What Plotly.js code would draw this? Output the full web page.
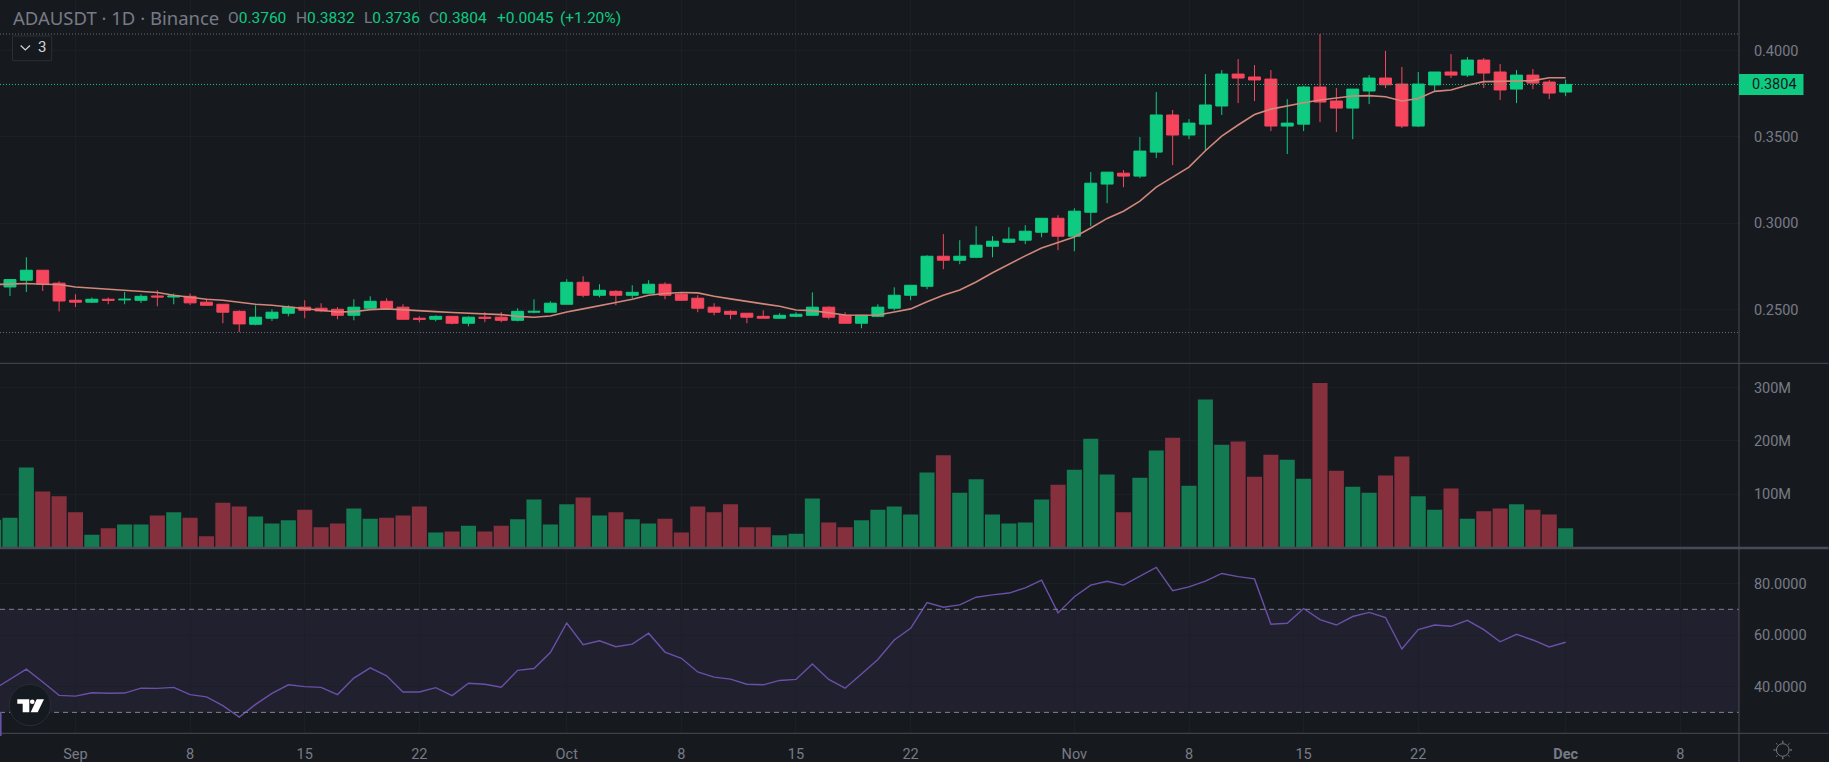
<!DOCTYPE html>
<html><head><meta charset="utf-8">
<script src="https://cdn.plot.ly/plotly-3.0.1.min.js"></script>
<style>html,body{margin:0;padding:0;background:#161a1f;overflow:hidden}</style>
</head><body><div id="chart" style="width:1829px;height:762px"></div>
<script>
const days = ['08-27','08-28','08-29','08-30','08-31',
'09-01','09-02','09-03','09-04','09-05','09-06','09-07','09-08','09-09','09-10','09-11','09-12','09-13','09-14','09-15','09-16','09-17','09-18','09-19','09-20','09-21','09-22','09-23','09-24','09-25','09-26','09-27','09-28','09-29','09-30',
'10-01','10-02','10-03','10-04','10-05','10-06','10-07','10-08','10-09','10-10','10-11','10-12','10-13','10-14','10-15','10-16','10-17','10-18','10-19','10-20','10-21','10-22','10-23','10-24','10-25','10-26','10-27','10-28','10-29','10-30','10-31',
'11-01','11-02','11-03','11-04','11-05','11-06','11-07','11-08','11-09','11-10','11-11','11-12','11-13','11-14','11-15','11-16','11-17','11-18','11-19','11-20','11-21','11-22','11-23','11-24','11-25','11-26','11-27','11-28','11-29','11-30','12-01'];
const opens = [.2640,.2631,.2670,.2728,.2653,.2554,.2543,.2560,.2556,.2554,.2579,.2573,.2577,.2543,.2531,.2490,.2415,.2450,.2479,.2514,.2508,.2502,.2467,.2508,.2548,.2514,.2450,.2444,.2461,.2421,.2456,.2456,.2438,.2485,.2485,.2531,.2658,.2583,.2606,.2583,.2595,.2647,.2589,.2566,.2514,.2490,.2479,.2461,.2450,.2461,.2467,.2514,.2467,.2421,.2461,.2508,.2583,.2635,.2809,.2786,.2803,.2867,.2890,.2902,.2948,.3029,.2925,.3064,.3227,.3290,.3273,.3412,.3627,.3511,.3574,.3679,.3864,.3847,.3835,.3563,.3574,.3789,.3708,.3667,.3766,.3841,.3806,.3563,.3801,.3876,.3858,.3945,.3876,.3777,.3858,.3818,.3760];
const closes = [.2660,.2674,.2728,.2647,.2550,.2543,.2560,.2554,.2560,.2577,.2573,.2579,.2539,.2525,.2485,.2417,.2456,.2485,.2514,.2496,.2492,.2467,.2514,.2548,.2508,.2444,.2444,.2461,.2421,.2456,.2450,.2438,.2490,.2490,.2537,.2658,.2583,.2612,.2583,.2600,.2647,.2583,.2554,.2508,.2485,.2473,.2456,.2450,.2467,.2473,.2514,.2456,.2421,.2467,.2514,.2583,.2641,.2809,.2786,.2809,.2873,.2896,.2908,.2954,.3029,.2925,.3070,.3232,.3296,.3273,.3418,.3627,.3511,.3580,.3685,.3864,.3841,.3830,.3563,.3580,.3789,.3702,.3667,.3777,.3841,.3802,.3563,.3806,.3876,.3858,.3945,.3870,.3772,.3858,.3812,.3754,.3804];
const highs = [.2670,.2674,.2803,.2728,.2664,.2589,.2570,.2570,.2602,.2589,.2612,.2593,.2593,.2564,.2531,.2496,.2525,.2502,.2525,.2554,.2537,.2514,.2560,.2577,.2566,.2531,.2461,.2467,.2461,.2461,.2485,.2485,.2508,.2560,.2548,.2676,.2693,.2647,.2612,.2641,.2670,.2658,.2600,.2583,.2537,.2496,.2479,.2496,.2479,.2485,.2600,.2519,.2485,.2467,.2531,.2629,.2641,.2815,.2937,.2902,.2983,.2925,.2977,.2989,.3029,.3047,.3087,.3296,.3296,.3308,.3499,.3760,.3656,.3603,.3864,.3887,.3951,.3916,.3887,.3719,.3795,.4096,.3783,.3777,.3858,.3998,.3905,.3876,.3876,.3980,.3963,.3957,.3922,.3887,.3893,.3830,.3832];
const lows = [.2600,.2579,.2602,.2608,.2490,.2515,.2539,.2531,.2531,.2539,.2519,.2531,.2527,.2525,.2421,.2369,.2409,.2434,.2461,.2450,.2485,.2444,.2438,.2508,.2508,.2444,.2427,.2432,.2415,.2403,.2427,.2427,.2432,.2479,.2485,.2531,.2571,.2571,.2525,.2566,.2595,.2560,.2554,.2485,.2467,.2444,.2421,.2450,.2450,.2456,.2467,.2444,.2421,.2392,.2456,.2496,.2554,.2618,.2734,.2763,.2798,.2803,.2885,.2879,.2919,.2844,.2838,.2983,.3116,.3209,.3261,.3377,.3337,.3487,.3418,.3627,.3696,.3708,.3534,.3401,.3534,.3586,.3528,.3487,.3690,.3783,.3551,.3557,.3766,.3841,.3847,.3783,.3714,.3696,.3777,.3719,.3736];
const volumeM = [52,56,150,105,96,66,24,36,43,43,60,66,56,21,84,77,58,45,51,71,38,45,73,54,56,60,77,28,30,41,30,41,53,90,43,81,94,60,66,53,45,54,28,77,66,81,38,38,23,26,92,47,38,51,71,77,62,141,173,103,128,62,45,47,90,118,146,204,137,66,131,182,206,116,278,193,199,133,174,165,129,309,144,114,103,135,171,96,71,111,54,68,73,81,71,62,36];
const maValues = [.2645,.2647,.2651,.2647,.2645,.2631,.2624,.2616,.2612,.2606,.2599,.2583,.2570,.2560,.2554,.2541,.2531,.2525,.2515,.2506,.2496,.2486,.2488,.2500,.2504,.2500,.2494,.2488,.2483,.2479,.2475,.2471,.2461,.2456,.2463,.2486,.2504,.2521,.2541,.2560,.2583,.2593,.2599,.2597,.2577,.2562,.2546,.2533,.2519,.2498,.2494,.2481,.2469,.2467,.2469,.2486,.2504,.2546,.2583,.2614,.2660,.2713,.2763,.2811,.2857,.2888,.2921,.2973,.3028,.3070,.3128,.3209,.3267,.3325,.3420,.3505,.3569,.3630,.3661,.3681,.3698,.3714,.3727,.3737,.3739,.3733,.3708,.3723,.3764,.3772,.3799,.3820,.3822,.3824,.3826,.3843,.3843];
const rsiValues = [38.9,42.9,46.8,41.8,36.6,36.3,37.6,37.4,37.5,39.4,39.3,39.7,36.9,36.0,32.6,28.2,33.1,37.4,40.7,40.0,39.7,36.9,43.3,47.3,44.2,37.9,37.9,39.6,36.5,41.3,40.9,39.8,46.3,47.0,53.2,64.7,56.3,57.8,55.5,56.5,60.7,53.4,51.0,45.7,43.7,42.9,40.9,40.7,42.4,42.8,48.8,42.8,39.4,44.9,50.5,58.1,62.6,72.6,70.8,71.7,74.7,75.6,76.3,78.3,81.3,68.6,74.9,79.4,80.9,79.4,82.9,86.3,77.2,78.7,80.9,83.9,82.7,81.8,64.2,64.6,70.3,66.0,63.9,67.2,68.8,66.8,54.6,62.1,63.9,63.4,65.7,62.1,57.4,60.3,58.1,55.4,57.2];
const tickDates = ['09-01','09-08','09-15','09-22','10-01','10-08','10-15','10-22','11-01','11-08','11-15','11-22','12-01','12-08'];
const tickLabels = ['Sep','8','15','22','Oct','8','15','22','Nov','8','15','22','<b>Dec</b>','8'];
const priceTicks = [.25,.30,.35,.40];
const volumeTicks = [100,200,300];
const volumeTickLabels = ['100M','200M','300M'];
const rsiTicks = [40,60,80];
const rsiUpper = 70, rsiLower = 30;
const lastPrice = .3804, rangeHigh = .4096, rangeLow = .2367;
const symbolTitle = 'ADAUSDT · 1D · Binance';
const ohlcParts = [['O','0.3760',226.5],['H','0.3832',294.5],['L','0.3736',362.5],['C','0.3804',427.5],['','+0.0045',495.5],['','(+1.20%)',558.5]];

const UP='#0ecb81', DOWN='#f6465d', UPV='#137a52', DOWNV='#86303e', BG='#161a1f', GRID='#1b1f26', AXIS='#484b55', TXT='#787b86';
const W=1829,H=762,PW=1739.5,PH=733;
const dates = days.map(d=>'2023-'+d);
const px = x=>x/PW, py = y=>(PH-y)/PH;
const font = {family:'Roboto, sans-serif',size:14.5,color:TXT};

const traces = [
 {type:'candlestick',x:dates,open:opens,high:highs,low:lows,close:closes,xaxis:'x',yaxis:'y',
  increasing:{line:{color:UP,width:1},fillcolor:UP},decreasing:{line:{color:DOWN,width:1},fillcolor:DOWN},
  whiskerwidth:0,hoverinfo:'skip',showlegend:false},
 {type:'scatter',mode:'lines',x:dates,y:maValues,xaxis:'x',yaxis:'y',line:{color:'#d2877a',width:1.6},hoverinfo:'skip',showlegend:false},
 {type:'bar',x:dates,y:volumeM,xaxis:'x',yaxis:'y2',marker:{color:opens.map((o,i)=>closes[i]>=o?UPV:DOWNV),line:{width:0}},hoverinfo:'skip',showlegend:false},
 {type:'scatter',mode:'lines',x:dates,y:rsiValues,xaxis:'x',yaxis:'y3',line:{color:'#6a50a8',width:1.4},hoverinfo:'skip',showlegend:false}
];

const line=(x0,y0,x1,y1,color,width,dash)=>({type:'line',xref:'paper',yref:'paper',x0:px(x0),y0:py(y0),x1:px(x1),y1:py(y1),line:{color,width:width||1,dash:dash||'solid'},layer:'above'});
const hline=(yref,val,color,dash)=>({type:'line',xref:'paper',yref,x0:0,x1:1,y0:val,y1:val,line:{color,width:1,dash},layer:'above'});
const pathShape=(d,fill,lc,lw)=>({type:'path',xref:'paper',yref:'paper',path:d,fillcolor:fill,line:{color:lc||'rgba(0,0,0,0)',width:lw||0},layer:'above'});
const P=(x,y)=>px(x)+','+py(y);
const shapes=[
 {type:'rect',xref:'paper',yref:'y3',x0:0,x1:1,y0:rsiLower,y1:rsiUpper,fillcolor:'#21202e',line:{width:0},layer:'below'},
 hline('y3',rsiUpper,'#7f828d','5px,4px'),hline('y3',rsiLower,'#7f828d','5px,4px'),
 hline('y',rangeHigh,'#6b6a7c','1px,2px'),hline('y',rangeLow,'#6b6a7c','1px,2px'),
 hline('y',lastPrice,UP,'1px,2px'),
 line(0,363.3,W,363.3,AXIS,1),line(0,548,W,548,AXIS,2.5),line(0,733.3,W,733.3,AXIS,1),
 line(PW,0,PW,H,AXIS,1),
 {type:'rect',xref:'paper',yref:'y',x0:1,x1:px(1804),y0:lastPrice-0.0061,y1:lastPrice+0.0061,fillcolor:UP,line:{width:0},layer:'above'},
 // legend toggle box
 {type:'rect',xref:'paper',yref:'paper',x0:px(12.5),x1:px(51.7),y0:py(60.7),y1:py(36),fillcolor:BG,line:{color:'#2a2f38',width:1},layer:'above'},
 pathShape(`M${P(20.7,45.5)}L${P(25.3,50)}L${P(30,45.5)}`,'rgba(0,0,0,0)','#d1d4dc',1.2),
 // logo circle and mark
 {type:'circle',xref:'paper',yref:'paper',x0:px(9.3),x1:px(50.7),y0:py(725.7),y1:py(684.3),fillcolor:'#151920',line:{color:'#272c36',width:1},layer:'above'},
 pathShape(`M${P(17.3,699.3)}L${P(29.3,699.3)}L${P(29.3,712.3)}L${P(22.7,712.3)}L${P(22.7,703.8)}L${P(17.3,703.8)}Z`,'#ffffff'),
 {type:'circle',xref:'paper',yref:'paper',x0:px(30),x1:px(34.6),y0:py(704),y1:py(699.4),fillcolor:'#ffffff',line:{width:0},layer:'above'},
 pathShape(`M${P(36.7,699.3)}L${P(44,699.3)}L${P(37.7,712.3)}L${P(30.7,712.3)}Z`,'#ffffff'),
 // stray left indicator sliver
 line(0.8,712,0.8,736,'#6a50a8',1.6),
 // sun icon
 {type:'circle',xref:'paper',yref:'paper',x0:px(1777),x1:px(1789.6),y0:py(756.3),y1:py(743.7),fillcolor:'rgba(0,0,0,0)',line:{color:TXT,width:1},layer:'above'},
 line(1783.3,740.8,1783.3,743,TXT,1.2),line(1783.3,757,1783.3,759.2,TXT,1.2),line(1774,750,1776.2,750,TXT,1.2),line(1790.4,750,1792.6,750,TXT,1.2),
 line(1776.6,743.3,1778,744.7,TXT,1),line(1788.6,755.3,1790,756.7,TXT,1),line(1790,743.3,1788.6,744.7,TXT,1),line(1778,755.3,1776.6,756.7,TXT,1)
];

const annotations=[
 {xref:'paper',yref:'paper',x:px(11.5),y:py(18),xanchor:'left',yanchor:'middle',showarrow:false,text:symbolTitle,font:{family:'"Noto Sans", sans-serif',size:18.5,color:TXT}},
 {xref:'paper',yref:'paper',x:px(36.5),y:py(47.5),xanchor:'left',yanchor:'middle',showarrow:false,text:'3',font:{family:'Roboto, sans-serif',size:15,color:'#d1d4dc'}},
 {xref:'paper',yref:'y',x:px(1750.5),y:lastPrice,xanchor:'left',yanchor:'middle',showarrow:false,text:'0.3804',font:{family:'Roboto, sans-serif',size:14.5,color:'#131722'}},
 ...ohlcParts.map(([k,v,x])=>({xref:'paper',yref:'paper',x:px(x),y:py(18),xanchor:'left',yanchor:'middle',showarrow:false,
   text:(k?`<span style="color:${TXT}">${k}</span>`:'')+`<span style="color:${UP}">${v}</span>`,font:{family:'Roboto, sans-serif',size:15.5,color:UP}}))
];

const yCommon={side:'right',anchor:'x',gridcolor:GRID,gridwidth:1,zeroline:false,showline:false,ticks:'outside',ticklen:11,tickcolor:'rgba(0,0,0,0)',tickfont:font,tickmode:'array',fixedrange:true};
const layout={
 width:W,height:H,paper_bgcolor:BG,plot_bgcolor:BG,margin:{l:0,r:W-PW,t:0,b:H-PH,pad:0},
 showlegend:false,hovermode:false,dragmode:false,bargap:0.08,boxgap:0.27,boxgroupgap:0,
 xaxis:{type:'date',range:['2023-08-27 09:23','2023-12-11 14:05'],anchor:'y3',domain:[0,1],rangeslider:{visible:false},
  tickmode:'array',tickvals:tickDates.map(d=>'2023-'+d),ticktext:tickLabels,tickfont:font,gridcolor:GRID,gridwidth:1,zeroline:false,showline:false,
  ticks:'outside',ticklen:8,tickcolor:'rgba(0,0,0,0)',fixedrange:true},
 yaxis:{...yCommon,domain:[py(363.3),1],range:[.2189,.4293],tickvals:priceTicks,ticktext:priceTicks.map(v=>v.toFixed(4))},
 yaxis2:{...yCommon,domain:[py(547.5),py(364.3)],range:[0,344],tickvals:volumeTicks,ticktext:volumeTickLabels},
 yaxis3:{...yCommon,domain:[0,py(549)],range:[22,93.4],tickvals:rsiTicks,ticktext:rsiTicks.map(v=>v.toFixed(4))},
 shapes,annotations
};
Plotly.newPlot('chart',traces,layout,{displayModeBar:false,staticPlot:true,responsive:false});
</script></body></html>
